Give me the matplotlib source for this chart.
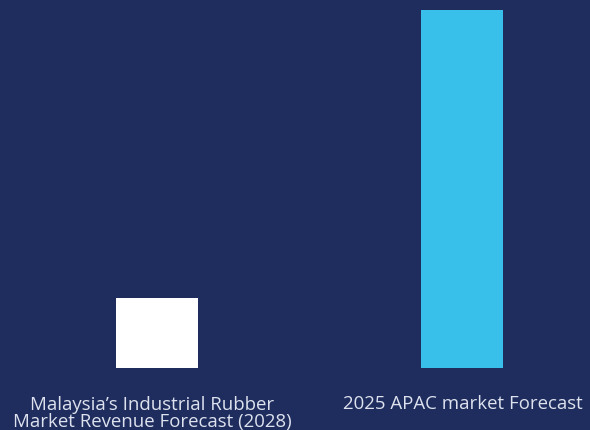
import matplotlib.pyplot as plt

# Forecast values (bar heights)
categories = ["Malaysia\u2019s Industrial Rubber\nMarket Revenue Forecast (2028)",
              "2025 APAC market Forecast"]
values = [1.1, 5.63]
colors = ["#ffffff", "#38c0ea"]

bg = "#1f2d5e"

fig = plt.figure(figsize=(5.9, 4.3), dpi=100, facecolor=bg)
ax = fig.add_axes([0, 0.1442, 1, 0.8558])
ax.set_facecolor(bg)

x = range(len(values))
ax.bar(x, values, width=0.27, color=colors)

ax.set_xlim(-157 / 305, (590 - 157) / 305)
ax.set_ylim(0, max(values) * 368 / 358)

# category labels under the bars
offsets = [(-3.5, -42.5), (0.5, -29.5)]
for lab, xi, off in zip(categories, x, offsets):
    ax.annotate(lab, xy=(xi, 0), xytext=off,
                textcoords="offset points", ha="center", va="baseline",
                fontsize=13.4, color="#dde2ee", linespacing=0.95,
                family=["Open Sans", "DejaVu Sans"], annotation_clip=False)

ax.set_xticks([])
ax.set_yticks([])
for s in ax.spines.values():
    s.set_visible(False)

fig.savefig("out.png", dpi=100, facecolor=bg)
